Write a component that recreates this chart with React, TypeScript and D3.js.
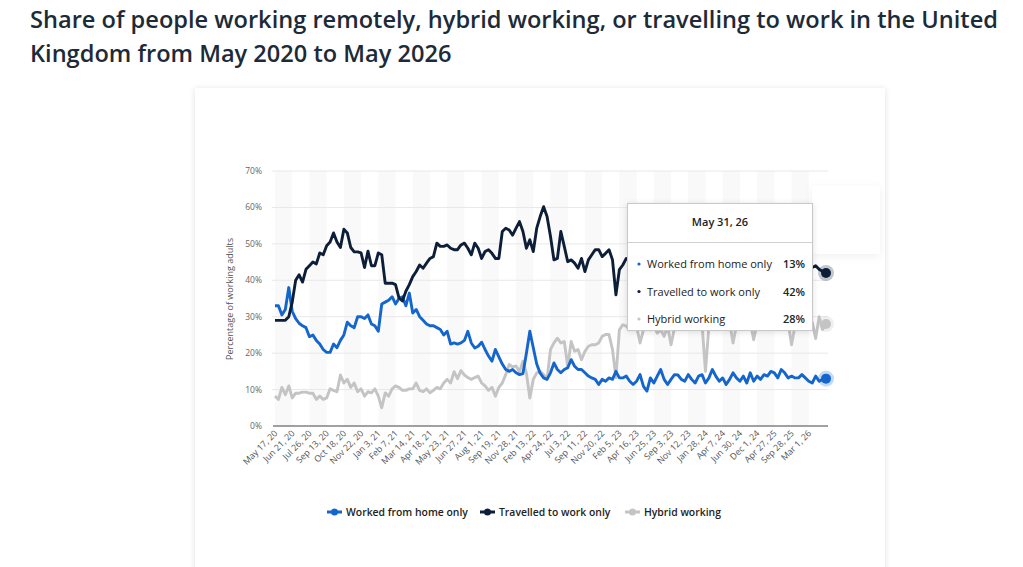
import React, { useEffect, useRef } from "react";
import * as d3 from "d3";

const TITLE_1 = "Share of people working remotely, hybrid working, or travelling to work in the United";
const TITLE_2 = "Kingdom from May 2020 to May 2026";

// one label for every fifth survey point
const tickLabels = [
  "May 17, 20", "Jun 21, 20", "Jul 26, 20", "Sep 13, 20", "Oct 18, 20", "Nov 22, 20",
  "Jan 3, 21", "Feb 7, 21", "Mar 14, 21", "Apr 18, 21", "May 23, 21", "Jun 27, 21",
  "Aug 1, 21", "Sep 19, 21", "Nov 28, 21", "Feb 13, 22", "Apr 24, 22", "Jul 3, 22",
  "Sep 11, 22", "Nov 20, 22", "Feb 5, 23", "Apr 16, 23", "Jun 25, 23", "Sep 3, 23",
  "Nov 12, 23", "Jan 28, 24", "Apr 7, 24", "Jun 30, 24", "Dec 1, 24", "Apr 27, 25",
  "Sep 28, 25", "Mar 1, 26",
];
const lastDate = "May 31, 26";

const seriesNames = ["Worked from home only", "Travelled to work only", "Hybrid working"];
const seriesColors = ["#1466cc", "#0d1f38", "#c4c4c4"];

const homeOnly = [
  33, 33, 30.5, 32, 38, 31.5, 29.5, 28.2, 27.5, 27, 24.5, 25, 23.5, 22.5, 21, 20.2, 20.2, 22.5, 21.5, 23.5,
  25, 28.5, 27.5, 27, 30, 30, 29.5, 30.5, 28, 27.5, 26, 33.5, 34, 34.5, 35.5, 33.5, 35, 35.5, 33, 36.5,
  31, 32, 30, 29, 28, 27.5, 27.5, 27, 26.5, 25, 26, 22.5, 22.8, 22.5, 22.8, 23.5, 26, 22.8, 21.4, 21.9,
  23, 21, 19.2, 17.8, 21, 19, 17, 15.5, 15, 15.5, 14.6, 14.1, 14.4, 20, 26, 21.5, 17, 14.5, 13.2, 12.8,
  14.6, 17.3, 15.5, 14.6, 15.5, 16, 18.2, 16.4, 15.5, 15.5, 14.6, 13.7, 13.2, 12.8, 11.4, 12.8, 12.3, 13.2, 12.8, 15,
  13.2, 13.2, 13.7, 12.3, 11.4, 12.3, 14.1, 10.9, 9.6, 13.2, 11.8, 13.7, 15.5, 12.8, 11.4, 12.8, 14.1, 14, 12.8, 12.3,
  14.1, 12.8, 11.8, 13.7, 14.1, 11.8, 13.2, 15.5, 13.7, 12.3, 13.2, 11.4, 12.8, 14.6, 13.2, 12.3, 13.7, 11.8, 14.6, 12.3,
  13.7, 12.8, 14.1, 13.7, 15, 14.6, 13.2, 15.5, 14.6, 13.2, 13.7, 13.2, 13.2, 14.1, 13.2, 12.3, 11.8, 13.7, 12.3, 12.8,
  13,
];

const travelledOnly = [
  29, 29, 29, 29, 30, 34, 40, 41.5, 39.5, 43, 44, 45, 44.5, 47.5, 47, 49.5, 50.5, 53, 50.5, 49,
  54, 53, 49, 47.8, 47.8, 47.5, 43.5, 48, 44, 44, 47.5, 47, 39.2, 39.2, 39.2, 38.8, 35.2, 34.3, 37, 38.8,
  41, 42.4, 44.2, 43.3, 44.7, 46, 46.5, 50.2, 49.3, 49.3, 49.7, 48.8, 48.4, 48.4, 49.7, 50.2, 48.8, 47, 50.2, 48.8,
  46, 47.9, 48.4, 47.4, 46, 46, 53.4, 54.3, 53.8, 52.4, 54.3, 56.1, 53.4, 48.8, 51.1, 47.9, 54.3, 57.5, 60.2, 57.5,
  52, 45.6, 46, 53.4, 49.3, 45.1, 45.6, 44.7, 43.3, 46, 42.4, 45.6, 47, 48.4, 48.4, 46.5, 47.4, 48.4, 45.6, 36,
  42.9, 44.2, 46, 45.5, 44.5, 46, 45, 44, 45.5, 46.5, 45, 44, 45, 46, 44.5, 45.5, 44, 45, 46, 44.5,
  45, 43.5, 45, 46, 44.5, 45.5, 44, 45, 44.5, 46, 45, 44, 45.5, 44.5, 45, 43.5, 44.5, 45.5, 44, 45,
  44, 45, 43.5, 44.5, 45, 44, 43, 44.5, 45, 44, 43.5, 44.5, 43.5, 44, 43, 44, 43.5, 44, 43, 42.5,
  42,
];

const hybrid = [
  8.2, 7.3, 10.6, 8.6, 11, 7.7, 9, 9, 9.3, 9.3, 9, 9, 7.3, 8.2, 7.3, 7.7, 10.2, 9.8, 9.4, 14,
  11.8, 12.8, 10.6, 11.8, 9.4, 10.2, 8.2, 9.4, 9.1, 10.2, 8.2, 5, 9.1, 8.2, 10.2, 11, 10.6, 9.8, 9.8, 10.2,
  10.2, 11.8, 9.8, 9.4, 10.2, 9.1, 9.8, 10.6, 10.2, 11.8, 12.8, 11.8, 14.9, 13, 15.2, 14, 13.3, 12.8, 13.3, 13.7,
  11.8, 11, 9.8, 10.6, 8.2, 10.6, 11.8, 14.1, 16.9, 16.2, 16.5, 14.9, 17.8, 14.5, 7.7, 12.8, 14.6, 15, 14.1, 12.8,
  21, 22.8, 24.1, 22.8, 23.2, 16.4, 23.2, 20.5, 21, 18.2, 20.5, 21.9, 22.3, 22.3, 22.8, 24.6, 25.1, 25.1, 21, 13.2,
  26.4, 27.8, 27.4, 26.4, 26.9, 27.4, 22.8, 26.4, 27.4, 26.4, 27.4, 25.5, 26.4, 24.6, 27.4, 22.3, 26.9, 27, 28, 27.5,
  28, 27, 28.5, 27.5, 28, 15, 27.5, 28, 28.5, 27, 28, 27.5, 28.5, 22.8, 27.5, 28, 28, 27, 28.5, 23.7,
  28, 27.5, 28.5, 28, 27.5, 28, 29, 27.5, 28, 28.5, 22.3, 27.5, 28, 28.5, 27.5, 28, 28.5, 24, 30, 26.5,
  28,
];

const yTicks = [0, 10, 20, 30, 40, 50, 60, 70];

const W = 1023;
const H = 567;

export default function App() {
  const ref = useRef<SVGSVGElement | null>(null);

  useEffect(() => {
    const svg = d3.select(ref.current);
    svg.selectAll("*").remove();

    const series = [homeOnly, travelledOnly, hybrid];
    const n = homeOnly.length;
    const x = d3.scaleLinear().domain([0, n - 1]).range([275, 826]);
    const y = d3.scaleLinear().domain([0, 70]).range([426, 171]);

    const defs = svg.append("defs");
    const f = defs.append("filter").attr("id", "shadow").attr("x", "-10%").attr("y", "-10%").attr("width", "120%").attr("height", "120%");
    f.append("feDropShadow").attr("dx", 0).attr("dy", 1).attr("stdDeviation", 3).attr("flood-color", "#000").attr("flood-opacity", 0.12);
    const f2 = defs.append("filter").attr("id", "soft").attr("x", "-20%").attr("y", "-20%").attr("width", "140%").attr("height", "140%");
    f2.append("feDropShadow").attr("dx", 0).attr("dy", 2).attr("stdDeviation", 4).attr("flood-color", "#000").attr("flood-opacity", 0.06);

    svg.append("rect").attr("width", W).attr("height", H).attr("fill", "#fff");

    // title
    const title = svg.append("g")
      .style("font-family", "'Open Sans', sans-serif")
      .style("font-size", "23.6px")
      .style("font-weight", 600)
      .attr("fill", "#1d2a38");
    title.append("text").attr("x", 30).attr("y", 28).text(TITLE_1);
    title.append("text").attr("x", 30).attr("y", 62).text(TITLE_2);

    // card
    svg.append("rect").attr("x", 195).attr("y", 88).attr("width", 690).attr("height", 500)
      .attr("fill", "#fff").attr("filter", "url(#shadow)");

    // vertical stripes, one per label interval
    const stripes = svg.append("g");
    tickLabels.forEach((_, i) => {
      if (i % 2 === 1) return;
      const x0 = x(i * 5);
      const x1 = Math.min(x(i * 5 + 5), 828);
      stripes.append("rect").attr("x", x0).attr("y", 171).attr("width", x1 - x0).attr("height", 426 - 171)
        .attr("fill", "#f9f9fa");
    });

    // gridlines
    svg.append("g").selectAll("line").data(yTicks.slice(1)).join("line")
      .attr("x1", 272).attr("x2", 828)
      .attr("y1", (d) => y(d)).attr("y2", (d) => y(d))
      .attr("stroke", "#e8e8e8").attr("stroke-width", 1);

    const axisFont = "'Open Sans', sans-serif";

    svg.append("g").selectAll("text").data(yTicks).join("text")
      .attr("x", 262).attr("y", (d) => y(d) + 3)
      .attr("text-anchor", "end")
      .style("font-family", axisFont).style("font-size", "8.5px").attr("fill", "#666")
      .text((d) => `${d}%`);

    svg.append("text")
      .attr("transform", "translate(233,299) rotate(-90)")
      .attr("text-anchor", "middle")
      .style("font-family", axisFont).style("font-size", "9px").attr("fill", "#555")
      .text("Percentage of working adults");

    // x labels
    svg.append("g").selectAll("text").data(tickLabels).join("text")
      .attr("transform", (_, i) => `translate(${x(i * 5) + 3},${434}) rotate(-45)`)
      .attr("text-anchor", "end")
      .style("font-family", axisFont).style("font-size", "8.8px").attr("fill", "#555")
      .text((d) => d);

    // lines
    const line = d3.line<number>().x((_, i) => x(i)).y((d) => y(d)).curve(d3.curveLinear);
    [2, 0, 1].forEach((s) => {
      svg.append("path").datum(series[s])
        .attr("d", line)
        .attr("fill", "none")
        .attr("stroke", seriesColors[s])
        .attr("stroke-width", 2.9)
        .attr("stroke-linejoin", "round");
    });

    // axis line
    svg.append("line").attr("x1", 273).attr("x2", 828).attr("y1", 426).attr("y2", 426)
      .attr("stroke", "#444").attr("stroke-width", 1.2);

    // end markers
    series.forEach((s, k) => {
      const cx = x(n - 1);
      const cy = y(s[n - 1]);
      svg.append("circle").attr("cx", cx).attr("cy", cy).attr("r", 8).attr("fill", seriesColors[k]).attr("opacity", 0.25);
      svg.append("circle").attr("cx", cx).attr("cy", cy).attr("r", 5).attr("fill", seriesColors[k]);
    });

    // faint floating panel at right
    svg.append("rect").attr("x", 812).attr("y", 186).attr("width", 68).attr("height", 68)
      .attr("fill", "#fff").attr("filter", "url(#soft)");

    // tooltip
    const tt = svg.append("g").style("font-family", axisFont);
    tt.append("rect").attr("x", 627.5).attr("y", 203.5).attr("width", 185).attr("height", 127)
      .attr("fill", "#fff").attr("stroke", "#c8c8c8").attr("filter", "url(#shadow)");
    tt.append("line").attr("x1", 628).attr("x2", 812).attr("y1", 242.5).attr("y2", 242.5).attr("stroke", "#d0d0d0");
    tt.append("text").attr("x", 720).attr("y", 226).attr("text-anchor", "middle")
      .style("font-size", "11px").style("font-weight", 600).attr("fill", "#222").text(lastDate);
    const vals = [homeOnly, travelledOnly, hybrid].map((s) => s[s.length - 1]);
    seriesNames.forEach((name, k) => {
      const yy = 268 + k * 27.5;
      tt.append("circle").attr("cx", 639).attr("cy", yy - 4).attr("r", 1.6).attr("fill", seriesColors[k]);
      tt.append("text").attr("x", 647).attr("y", yy).style("font-size", "11px").attr("fill", "#222").text(name);
      tt.append("text").attr("x", 805).attr("y", yy).attr("text-anchor", "end")
        .style("font-size", "11px").style("font-weight", 600).attr("fill", "#222")
        .text(`${Math.round(vals[k])}%`);
    });

    // legend
    const legendX = [327, 480, 625];
    const lg = svg.append("g").style("font-family", axisFont);
    seriesNames.forEach((name, k) => {
      const lx = legendX[k];
      lg.append("line").attr("x1", lx).attr("x2", lx + 15).attr("y1", 512).attr("y2", 512)
        .attr("stroke", seriesColors[k]).attr("stroke-width", 3);
      lg.append("circle").attr("cx", lx + 7.5).attr("cy", 512).attr("r", 3.5).attr("fill", seriesColors[k]);
      lg.append("text").attr("x", lx + 19).attr("y", 516)
        .style("font-size", "10.4px").style("font-weight", 600).attr("fill", "#222").text(name);
    });
  }, []);

  return (
    <div style={{ position: "absolute", left: 0, top: 0, width: W, height: H, overflow: "hidden" }}>
      <svg ref={ref} width={W} height={H} />
    </div>
  );
}
